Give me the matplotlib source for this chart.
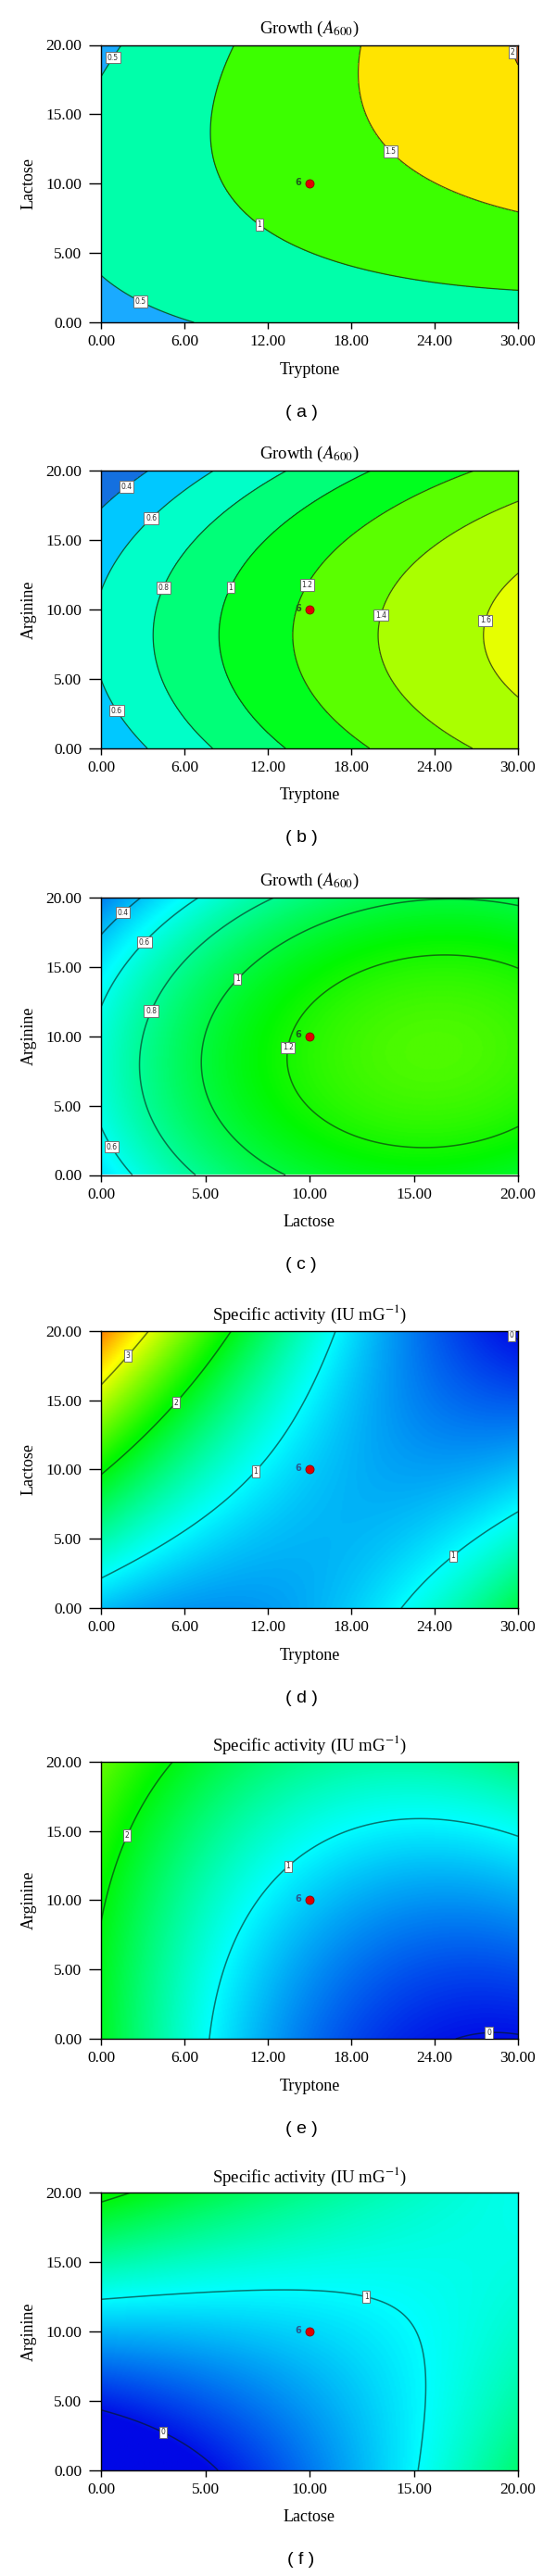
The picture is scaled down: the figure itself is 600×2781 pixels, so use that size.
import numpy as np
import matplotlib
matplotlib.use("Agg")
import matplotlib.pyplot as plt
from matplotlib.colors import LinearSegmentedColormap, Normalize

plt.rcParams['font.family'] = ['Liberation Serif', 'DejaVu Serif']
plt.rcParams['mathtext.fontset'] = 'stix'

# ---------------- data (read/estimated from the picture) ----------------
# quadratic response-surface coefficients [b0, bx, by, bxx, byy, bxy]
coef_a = [0.3473, 0.02556, 0.0536, -0.000406, -0.00254, 0.002032]   # Growth: Tryptone x Lactose
coef_b = [0.4461, 0.0477, 0.0445, -0.000449, -0.00273, 0.0]          # Growth: Tryptone x Arginine
coef_c = [0.4826, 0.08218, 0.04337, -0.002677, -0.00278, 0.000389]   # Growth: Lactose x Arginine
coef_d = [0.7417, -0.04463, 0.1164, 0.00262, 0.001485, -0.00787]     # Activity: Tryptone x Lactose
coef_e = [1.913, -0.1357, -0.00226, 0.00238, 0.001495, 0.001664]     # Activity: Tryptone x Arginine
coef_f = [-0.482, 0.0792, 0.106, 0.0012, 0.00116, -0.00771]          # Activity: Lactose x Arginine

levels_a = [0.5, 1.0, 1.5, 2.0]
levels_b = [0.4, 0.6, 0.8, 1.0, 1.2, 1.4, 1.6]
levels_c = [0.4, 0.6, 0.8, 1.0, 1.2]
levels_d = [0.0, 1.0, 2.0, 3.0]
levels_e = [0.0, 1.0, 2.0]
levels_f = [0.0, 1.0, 2.0]

# contour-label positions (x, y)
lab_a = [(0.7, 19.2), (3.0, 1.8), (11.5, 7.2), (20.9, 12.4), (29.4, 19.4)]
lab_b = [(1.7, 19.0), (3.4, 16.8), (4.2, 11.7), (9.1, 11.7), (14.6, 11.9), (20.1, 9.6), (27.7, 9.2), (1.4, 2.9)]
lab_c = [(1.0, 19.0), (2.0, 16.9), (6.5, 14.2), (2.3, 11.9), (8.9, 9.2), (0.7, 2.2)]
lab_d = [(1.7, 18.4), (5.3, 14.9), (11.3, 9.7), (25.2, 3.9), (29.5, 19.6)]
lab_e = [(1.8, 14.7), (13.6, 12.3), (27.9, 0.5)]
lab_f = [(12.7, 12.4), (3.1, 3.1)]

center_tl = (15.0, 10.0)   # design centre, Tryptone x Lactose / Arginine
center_ll = (10.0, 10.0)   # design centre, Lactose x Arginine
center_runs = "6"

tryptone_ticks = [0, 6, 12, 18, 24, 30]
lactose_ticks = [0, 5, 10, 15, 20]
y_ticks = [0, 5, 10, 15, 20]

title_growth = r"Growth ($A_{600}$)"
title_act = r"Specific activity (IU mG$^{-1}$)"

panels = [
    dict(coef=coef_a, levels=levels_a, labs=lab_a, xt=tryptone_ticks, xl="Tryptone", yl="Lactose",
         title=title_growth, tag="( a )", kind="discrete",
         colors=["#1AAAFF", "#00FFAA", "#3CFF00", "#FFE400", "#E0601A"], cen=center_tl, six="#1d5e1d"),
    dict(coef=coef_b, levels=levels_b, labs=lab_b, xt=tryptone_ticks, xl="Tryptone", yl="Arginine",
         title=title_growth, tag="( b )", kind="discrete",
         colors=["#1470E0", "#00C8FF", "#00FFC8", "#00FF78", "#00FF1E", "#5AFF00", "#AAFF00", "#E6FF00"],
         cen=center_tl, six="#1d5e1d"),
    dict(coef=coef_c, levels=levels_c, labs=lab_c, xt=lactose_ticks, xl="Lactose", yl="Arginine",
         title=title_growth, tag="( c )", kind="growth", cen=center_ll, six="#1d5e1d"),
    dict(coef=coef_d, levels=levels_d, labs=lab_d, xt=tryptone_ticks, xl="Tryptone", yl="Lactose",
         title=title_act, tag="( d )", kind="act", cen=center_tl, six="#2a5a90"),
    dict(coef=coef_e, levels=levels_e, labs=lab_e, xt=tryptone_ticks, xl="Tryptone", yl="Arginine",
         title=title_act, tag="( e )", kind="act", cen=center_tl, six="#2a5a90"),
    dict(coef=coef_f, levels=levels_f, labs=lab_f, xt=lactose_ticks, xl="Lactose", yl="Arginine",
         title=title_act, tag="( f )", kind="act", cen=center_ll, six="#2a5a90"),
]

# ---------------- layout ----------------
W, H = 600, 2781
fig = plt.figure(figsize=(W / 100, H / 100), dpi=100)
ax_left, ax_w, ax_h = 109, 450, 299.5
ax_tops = [48.5, 508.3, 969.0, 1436.7, 1901.7, 2367.3]

cmap = LinearSegmentedColormap.from_list(
    "dx", ["#0008E6", "#00FFFF", "#00F800", "#FFFF00", "#FF1000"])
norm_growth = Normalize(vmin=-0.05, vmax=2.35)
norm_act = Normalize(vmin=-0.05, vmax=4.15)


def surface(c, X, Y):
    return c[0] + c[1] * X + c[2] * Y + c[3] * X ** 2 + c[4] * Y ** 2 + c[5] * X * Y


def ftext(px, py, s, **kw):
    fig.text(px / W, 1 - py / H, s, **kw)


for p, top in zip(panels, ax_tops):
    ax = fig.add_axes([ax_left / W, 1 - (top + ax_h) / H, ax_w / W, ax_h / H])
    xmax = p["xt"][-1]
    xs = np.linspace(0, xmax, 301)
    ys = np.linspace(0, 20, 301)
    X, Y = np.meshgrid(xs, ys)
    Z = surface(p["coef"], X, Y)

    if p["kind"] == "discrete":
        bounds = [Z.min() - 1] + list(p["levels"]) + [Z.max() + 1]
        ax.contourf(X, Y, Z, levels=bounds, colors=p["colors"])
        lc, la, lw = "#102010", 0.75, 0.9
    else:
        norm = norm_growth if p["kind"] == "growth" else norm_act
        ax.imshow(Z, extent=[0, xmax, 0, 20], origin="lower", cmap=cmap, norm=norm,
                  aspect="auto", interpolation="bilinear")
        lc, la, lw = "#0a1a14", 0.6, 1.1
    cs = ax.contour(X, Y, Z, levels=p["levels"], colors=lc, linewidths=lw, alpha=la)
    texts = ax.clabel(cs, p["levels"], manual=p["labs"], inline=False,
                      fmt=lambda v: f"{v:g}", fontsize=5.5, colors="#303030")
    for t in texts:
        t.set_rotation(0)
        t.set_bbox(dict(boxstyle="square,pad=0.22", fc="white", ec="#707070", lw=0.7))
        t.set_alpha(1)
        t.set_fontfamily("DejaVu Sans")

    # design centre point
    cx, cy = p["cen"]
    ax.plot([cx], [cy], marker="o", ms=6.5, color="#E00000", mec="#900000", mew=0.6, zorder=5)
    ax.annotate(center_runs, (cx, cy), xytext=(-9, 1), textcoords="offset points",
                ha="center", va="center", fontsize=7, fontweight="bold", color=p["six"],
                family="DejaVu Sans", zorder=5)

    ax.set_xlim(0, xmax)
    ax.set_ylim(0, 20)
    ax.set_xticks(p["xt"])
    ax.set_xticklabels([f"{v:.2f}" for v in p["xt"]])
    ax.set_yticks(y_ticks)
    ax.set_yticklabels([f"{v:.2f}" for v in y_ticks])
    ax.tick_params(axis="x", direction="out", length=5, width=1, pad=4.5, labelsize=12.5)
    ax.tick_params(axis="y", direction="out", length=9.5, width=1, pad=5.5, labelsize=12.5)
    for s in ax.spines.values():
        s.set_linewidth(1.0)

    cxp = ax_left + ax_w / 2
    ftext(cxp, top - 17.5, p["title"], ha="center", va="center", fontsize=13.5)
    ftext(cxp, top + ax_h + 51, p["xl"], ha="center", va="center", fontsize=13)
    ftext(31, top + ax_h / 2, p["yl"], ha="center", va="center", rotation=90, fontsize=13)
    ftext(325, top + ax_h + 97, p["tag"], ha="center", va="center", fontsize=14,
          family="Liberation Sans")

fig.savefig("out.png", dpi=100)
